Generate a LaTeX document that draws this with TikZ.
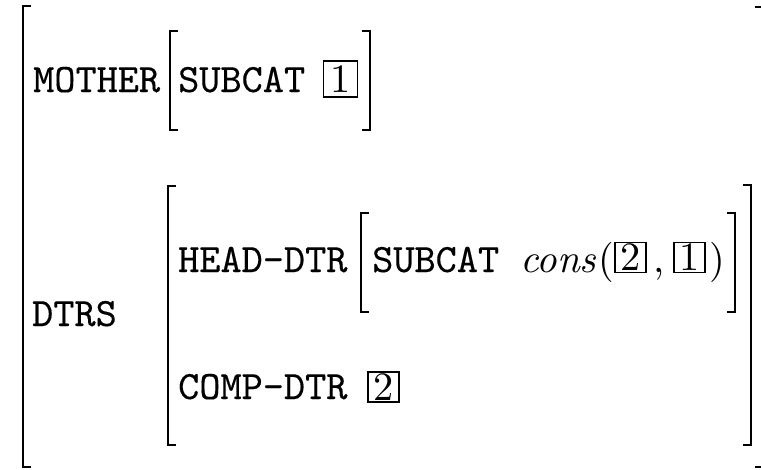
\documentclass[tikz,border=0pt]{standalone}
\usepackage{fontspec}
\setmainfont{lmroman10-regular}[Extension=.otf,ItalicFont=lmroman10-italic]
\setmonofont{lmmono10-regular}[Extension=.otf,FakeBold=0.3]
\begin{document}
\begin{tikzpicture}[x=1pt,y=-1pt,
  br/.style={line width=1.5pt, line cap=rect},
  lbl/.style={anchor=base west, inner sep=0pt, font=\fontsize{40.3pt}{48pt}\selectfont\ttfamily},
  mth/.style={anchor=base west, inner sep=0pt, font=\fontsize{40.3pt}{48pt}\selectfont\rmfamily},
  tag/.style={draw, line width=1.1pt, inner sep=0pt, minimum width=31pt, minimum height=30pt, font=\fontsize{40.3pt}{48pt}\selectfont\rmfamily}]
\useasboundingbox (0,0) rectangle (761,469);
% outer matrix
\draw[br] (30,6) -- (23,6) -- (23,467) -- (30,467);
\draw[br] (756,7) -- (761,7);
\draw[br] (756,467) -- (761,467);
% MOTHER row
\node[lbl] (mother) at (33,92) {MOTHER};
\draw[br] (177,31) -- (170,31) -- (170,130) -- (177,130);
\node[lbl] (sub1) at (178,92) {SUBCAT};
\node[tag, minimum width=34pt, minimum height=36pt] (t1) at (340.5,79) {1};
\draw[br] (363,31) -- (370,31) -- (370,130) -- (363,130);
% DTRS row
\node[lbl] (dtrs) at (32,326) {DTRS};
\draw[br] (175,186) -- (168,186) -- (168,445) -- (175,445);
\node[lbl] (head) at (178,272) {HEAD-DTR};
\draw[br] (368,213) -- (361,213) -- (361,312) -- (368,312);
\node[lbl] (sub2) at (372,272) {SUBCAT};
\node[mth] (cons) at (520,272) {\itshape cons};
\node[mth] (lp) at (598,272) {(};
\node[tag] (t2a) at (630.5,257.5) {2};
\node[mth] (comma) at (653,272) {,};
\node[tag] (t1a) at (689.5,257.5) {1};
\node[mth] (rp) at (709,272) {)};
\draw[br] (728,213) -- (735,213) -- (735,312) -- (728,312);
\node[lbl] (comp) at (178,399) {COMP-DTR};
\node[tag] (t2b) at (383.5,387) {2};
\draw[br] (744,185) -- (751,185) -- (751,445) -- (744,445);
\end{tikzpicture}
\end{document}
